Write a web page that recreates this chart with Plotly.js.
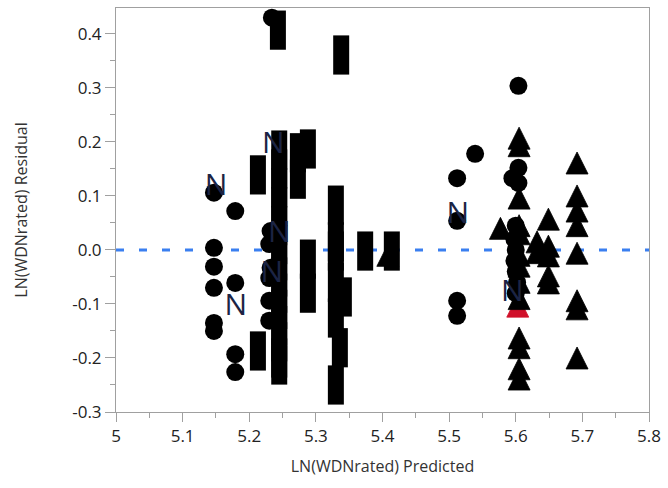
<!DOCTYPE html>
<html>
<head>
<meta charset="utf-8">
<script src="https://cdn.plot.ly/plotly-3.0.1.min.js"></script>
<style>html,body{margin:0;padding:0;background:#fff;}#chart{width:668px;height:488px;}</style>
</head>
<body>
<div id="chart"></div>
<script>
// Circles
const circleX = [5.147,5.147,5.147,5.147,5.147,5.147,5.179,5.179,5.179,5.179,
  5.234,5.232,5.230,5.232,5.230,5.230,5.230,
  5.512,5.539,5.512,5.512,5.512,5.604,5.604,5.595,5.604,5.600,5.598,5.600,5.598,5.600,5.602,5.600];
const circleY = [0.106,0.004,-0.031,-0.070,-0.135,-0.150,0.072,-0.061,-0.193,-0.226,
  0.430,0.035,0.011,-0.033,-0.052,-0.094,-0.131,
  0.133,0.178,0.054,-0.094,-0.122,0.304,0.152,0.133,0.124,0.045,0.020,0.000,-0.020,-0.040,-0.060,-0.080];
// Rectangles
const rectX = [5.243,5.338,5.213,5.213,5.273,5.273,5.288,
  5.245,5.245,5.245,5.245,5.245,5.245,5.245,5.245,5.245,5.245,5.245,5.245,5.245,5.245,
  5.288,5.288,5.330,5.330,5.330,5.330,5.342,5.330,5.336,5.330,5.374,5.414];
const rectY = [0.407,0.361,0.139,-0.187,0.180,0.131,0.187,
  0.185,0.150,0.115,0.080,0.045,0.010,-0.020,-0.050,-0.080,-0.110,-0.140,-0.170,-0.200,-0.213,
  -0.017,-0.080,0.083,0.015,-0.002,-0.060,-0.087,-0.126,-0.181,-0.250,-0.002,-0.002];
// Triangles
const triX = [5.605,5.605,5.605,5.577,5.605,5.605,5.605,5.605,5.605,5.605,
  5.632,5.632,5.649,5.649,5.649,5.649,5.649,
  5.692,5.692,5.692,5.692,5.692,5.692,5.692,5.692,
  5.605,5.605,5.605,5.605,5.408];
const triY = [0.207,0.193,0.096,0.040,0.045,0.030,-0.010,-0.030,-0.060,-0.090,
  0.015,-0.005,0.057,0.007,-0.011,-0.048,-0.061,
  0.161,0.100,0.072,0.045,-0.006,-0.094,-0.109,-0.200,
  -0.163,-0.181,-0.220,-0.239,-0.010];
// Highlighted triangle
const redX = [5.603];
const redY = [-0.104];
// N labels
const nX = [5.150,5.180,5.236,5.245,5.234,5.513,5.595];
const nY = [0.115,-0.106,0.193,0.028,-0.046,0.063,-0.081];
const nText = ['N','N','N','N','N','N','N'];

const xTicks = [5,5.1,5.2,5.3,5.4,5.5,5.6,5.7,5.8];
const xTickText = ['5','5.1','5.2','5.3','5.4','5.5','5.6','5.7','5.8'];
const yTicks = [-0.3,-0.2,-0.1,0,0.1,0.2,0.3,0.4];
const yTickText = ['-0.3','-0.2','-0.1','0.0','0.1','0.2','0.3','0.4'];

// tall up-pointing triangle: arrow-down rotated 180 and shifted by half its height
const triSize = 22;
const triMarker = (col) => ({symbol:'arrow-down', angle:180, standoff:triSize/2,
  size:triSize, color:col, line:{width:0.8, color:col}});

const traces = [
  {x: redX, y: redY, mode:'markers', type:'scatter', marker: triMarker('#d0102a')},
  {x: triX, y: triY, mode:'markers', type:'scatter', marker: triMarker('#000')},
  {x: circleX, y: circleY, mode:'markers', type:'scatter',
   marker:{symbol:'circle', size:18, color:'#000', line:{width:0}}},
  {x: rectX, y: rectY, mode:'markers', type:'scatter',
   marker:{symbol:'line-ns', size:28, color:'#000', line:{width:16,color:'#000'}}},
  {x: nX, y: nY, text: nText, mode:'text', type:'scatter',
   textposition:'middle center',
   textfont:{family:'Open Sans, DejaVu Sans, sans-serif', size:30, color:'#1c2444'}}
];

const layout = {
  width:668, height:488,
  margin:{l:116, r:19, t:8, b:76},
  paper_bgcolor:'#fff', plot_bgcolor:'#fff',
  showlegend:false,
  font:{family:'Open Sans, DejaVu Sans, sans-serif', size:16, color:'#222'},
  xaxis:{
    range:[5,5.8], tickvals:xTicks, ticktext:xTickText,
    showgrid:false, zeroline:false,
    showline:true, linecolor:'#a0a0a0', linewidth:1, mirror:true,
    ticks:'outside', ticklen:9, tickcolor:'#a0a0a0',
    minor:{dtick:0.05, ticks:'outside', ticklen:5, tickcolor:'#a0a0a0', showgrid:false},
    tickfont:{size:17, color:'#222'},
    title:{text:'LN(WDNrated) Predicted', font:{size:16, color:'#333'}, standoff:14}
  },
  yaxis:{
    range:[-0.3,0.448], tickvals:yTicks, ticktext:yTickText,
    showgrid:false, zeroline:false,
    showline:true, linecolor:'#a0a0a0', linewidth:1, mirror:true,
    ticks:'outside', ticklen:10, tickcolor:'#a0a0a0',
    minor:{dtick:0.05, ticks:'outside', ticklen:5, tickcolor:'#a0a0a0', showgrid:false},
    tickfont:{size:17, color:'#222'},
    title:{text:'LN(WDNrated) Residual', font:{size:16, color:'#333'}, standoff:40}
  },
  shapes:[{type:'line', xref:'paper', yref:'y', x0:0, x1:1, y0:0, y1:0,
    line:{color:'#3a7ff0', width:3, dash:'8px,15px'}, layer:'below'}]
};

Plotly.newPlot('chart', traces, layout, {displayModeBar:false, staticPlot:true});
</script>
</body>
</html>
